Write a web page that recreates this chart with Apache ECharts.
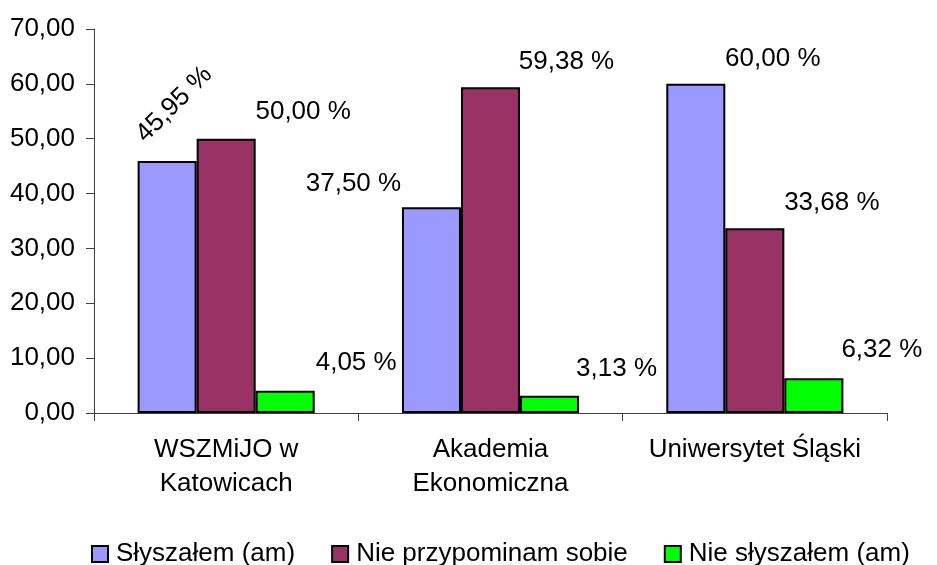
<!DOCTYPE html>
<html><head><meta charset="utf-8">
<script src="https://cdn.jsdelivr.net/npm/echarts@6/dist/echarts.min.js"></script>
<style>html,body{margin:0;padding:0;background:#fff}#c{width:937px;height:565px}</style>
</head><body><div id="c"></div>
<script>
var categories = ['WSZMiJO w\nKatowicach', 'Akademia\nEkonomiczna', 'Uniwersytet Śląski'];
var seriesNames = ['Słyszałem (am)', 'Nie przypominam sobie', 'Nie słyszałem (am)'];
var heard = [45.95, 37.50, 60.00];
var notRemember = [50.00, 59.38, 33.68];
var notHeard = [4.05, 3.13, 6.32];
var yTicks = [0, 10, 20, 30, 40, 50, 60, 70];

var colors = ['#9999FF', '#993366', '#00FF00'];
var FONT = 'Liberation Sans, Arial, sans-serif';
var FS = 26;

// label placement (Excel-like manual placement), per series per category
var labelOffsets = [
  [[45, -35], [-78, -23], [77, -25]],
  [[77, -27], [76, -25], [77, -25]],
  [[71, -28], [67, -27], [68, -29]]
];
var labelRotate = [[45, 0, 0], [0, 0, 0], [0, 0, 0]];

function fmt(v) { return v.toFixed(2).replace('.', ','); }

function buildSeries(idx, values) {
  return {
    name: seriesNames[idx],
    type: 'bar',
    barGap: '0%',
    barCategoryGap: '33%',
    itemStyle: { color: colors[idx], borderColor: '#000', borderWidth: 2 },
    data: values.map(function (v, i) {
      return {
        value: v,
        label: {
          show: true,
          position: 'top',
          distance: 0,
          align: 'center',
          verticalAlign: 'middle',
          rotate: labelRotate[idx][i],
          offset: labelOffsets[idx][i],
          formatter: fmt(v) + ' %',
          color: '#000',
          fontFamily: FONT,
          fontSize: FS
        }
      };
    })
  };
}

var chart = echarts.init(document.getElementById('c'), null, { renderer: 'canvas' });
chart.setOption({
  animation: false,
  backgroundColor: '#fff',
  textStyle: { fontFamily: FONT },
  grid: { left: 94, right: 50, top: 29, bottom: 152, containLabel: false },
  legend: {
    top: 541,
    left: 91,
    padding: 0,
    itemWidth: 16,
    itemHeight: 16,
    itemGap: 36,
    icon: 'rect',
    textStyle: { fontFamily: FONT, fontSize: FS, color: '#000', padding: [0, 0, 0, 3] },
    data: seriesNames.map(function (n, i) {
      return { name: n, itemStyle: { color: colors[i], borderColor: '#000', borderWidth: 2 } };
    })
  },
  xAxis: {
    type: 'category',
    data: categories,
    axisLine: { lineStyle: { color: '#404040', width: 1 } },
    axisTick: { show: true, length: 8, lineStyle: { color: '#404040' } },
    axisLabel: { color: '#000', fontFamily: FONT, fontSize: FS, lineHeight: 34, margin: 20, interval: 0 }
  },
  yAxis: {
    type: 'value',
    min: yTicks[0],
    max: yTicks[yTicks.length - 1],
    interval: yTicks[1] - yTicks[0],
    splitLine: { show: false },
    axisLine: { show: true, lineStyle: { color: '#404040', width: 1 } },
    axisTick: { show: true, length: 8, lineStyle: { color: '#404040' } },
    axisLabel: { color: '#000', fontFamily: FONT, fontSize: FS, margin: 19, formatter: fmt }
  },
  series: [buildSeries(0, heard), buildSeries(1, notRemember), buildSeries(2, notHeard)]
});
</script></body></html>
